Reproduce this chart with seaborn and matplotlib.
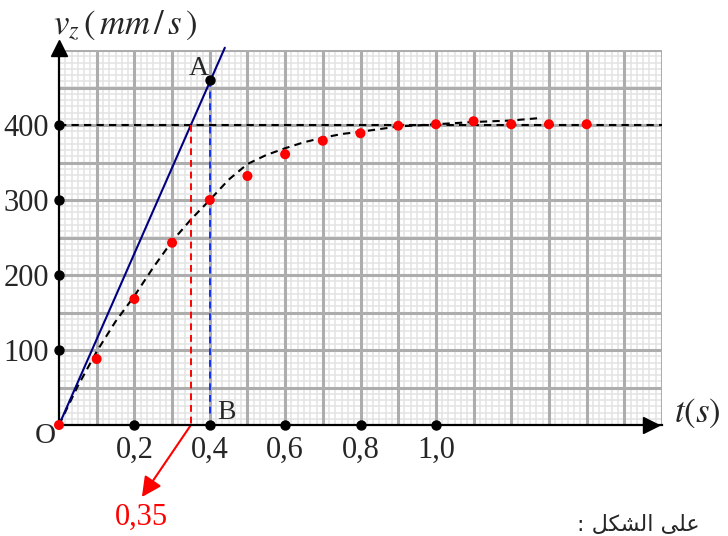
import numpy as np
import pandas as pd
import matplotlib
matplotlib.use("Agg")
import matplotlib.pyplot as plt
import seaborn as sns

# measured speed points (red dots)
t_meas = [0.0, 0.1, 0.2, 0.3, 0.4, 0.5, 0.6, 0.7, 0.8, 0.9, 1.0, 1.1, 1.2, 1.3, 1.4]
v_meas = [0, 88, 168, 243, 300, 332, 361, 379, 389, 399, 401, 405, 401, 401, 401]

# hand drawn dashed curve
t_curve = [0.0, 0.05, 0.1, 0.15, 0.2, 0.25, 0.3, 0.35, 0.4, 0.45, 0.5, 0.55, 0.6,
           0.65, 0.7, 0.75, 0.8, 0.9, 1.0, 1.1, 1.2, 1.27]
v_curve = [0, 52, 98, 138, 172, 210, 245, 274, 300, 327, 348, 360, 369,
           377, 383, 388, 391, 398, 401, 404, 406, 409]

# tangent at the origin
t_tan = [0.0, 0.44]
v_tan = [0, 503]

v_lim = 400
t_tau = 0.35
t_A, v_A = 0.4, 460

x_ticks = [0.2, 0.4, 0.6, 0.8, 1.0]
x_labels = ["0,2", "0,4", "0,6", "0,8", "1,0"]
y_ticks = [100, 200, 300, 400]
y_labels = ["100", "200", "300", "400"]

sns.set_style("white")
plt.rcParams["font.family"] = ["Liberation Serif", "DejaVu Sans"]
plt.rcParams["mathtext.fontset"] = "stix"

fig = plt.figure(figsize=(7.28, 5.36), dpi=100)
ax = fig.add_axes([59 / 728, 111 / 536, 603 / 728, 375 / 536])
ax.set_xlim(0, 1.6)
ax.set_ylim(0, 500)

# graph paper grid
for x in np.arange(0, 1.6001, 0.1 / 6):
    ax.axvline(x, color="#e3e3e3", lw=1.1, zorder=0)
for y in np.arange(0, 500.01, 50 / 6):
    ax.axhline(y, color="#e3e3e3", lw=1.1, zorder=0)
for x in np.arange(0.1, 1.6001, 0.1):
    ax.axvline(x, color="#adadad", lw=2.2, zorder=0.5)
for y in np.arange(50, 500.01, 50):
    ax.axhline(y, color="#adadad", lw=2.2, zorder=0.5)

ax.set_xticks(x_ticks)
ax.set_xticklabels(x_labels, fontsize=22)
ax.set_yticks(y_ticks)
ax.set_yticklabels(y_labels, fontsize=22)
ax.tick_params(axis="both", length=0)
ax.tick_params(axis="x", pad=8)
ax.tick_params(axis="y", pad=7)

for s in ["top", "right"]:
    ax.spines[s].set_visible(False)
for s in ["left", "bottom"]:
    ax.spines[s].set_color("black")
    ax.spines[s].set_linewidth(1.6)
    ax.spines[s].set_zorder(3)

# dashed fitted curve and measured points
curve = pd.DataFrame({"t": t_curve, "v": v_curve})
sns.lineplot(data=curve, x="t", y="v", ax=ax, color="black", lw=1.5,
             linestyle=(0, (3.5, 2.5)), zorder=4)
ax.axhline(v_lim, color="black", lw=1.5, linestyle=(0, (3.5, 2.5)), zorder=4)

# tangent
sns.lineplot(x=t_tan, y=v_tan, ax=ax, color="#000080", lw=1.5, zorder=4)
ax.lines[-1].set_clip_on(False)

ax.plot([t_tau, t_tau], [v_lim, 0], color="red", lw=1.4,
        linestyle=(0, (3.5, 2.5)), zorder=4)
ax.plot([t_A, t_A], [v_A, 15], color="#1030ff", lw=1.4,
        linestyle=(0, (3.5, 2.5)), zorder=4)

meas = pd.DataFrame({"t": t_meas, "v": v_meas})
sns.scatterplot(data=meas, x="t", y="v", ax=ax, color="red", s=52,
                edgecolor="none", zorder=6, clip_on=False)

# black dots on the axes and at A
ax.scatter(x_ticks, [0] * len(x_ticks), s=42, color="black", zorder=7, clip_on=False)
ax.scatter([0] * len(y_ticks), y_ticks, s=42, color="black", zorder=7, clip_on=False)
ax.scatter([t_A], [v_A], s=42, color="black", zorder=7, clip_on=False)

# axis arrows
ax.plot([0], [503], marker="^", markersize=12, color="black", clip_on=False, zorder=8)
ax.plot([1.57], [0], marker=">", markersize=12, color="black", clip_on=False, zorder=8)

ax.set_xlabel("")
ax.set_ylabel("")

ax.text(0.37, 475, "A", fontsize=20, ha="center", va="center")
ax.text(0.445, 17, "B", fontsize=20, ha="center", va="center")
ax.text(-0.035, -15, "O", fontsize=21, ha="center", va="center", clip_on=False)

ax.annotate("", xy=(0.22, -96), xytext=(t_tau, 0),
            arrowprops=dict(arrowstyle="-|>", color="red", lw=1.5,
                            mutation_scale=30, shrinkA=0, shrinkB=0),
            annotation_clip=False)
ax.text(0.22, -123, "0,35", fontsize=22, color="red", ha="center", va="center")

fig.text(125 / 728, 1 - 26 / 536, r"$v_z\,\left(\,mm\,/\,s\,\right)$", fontsize=25,
         ha="center", va="center")
fig.text(697 / 728, 1 - 413 / 536, r"$t\left(s\right)$", fontsize=25,
         ha="center", va="center")

# arabic caption near the bottom edge (visual order, presentation forms)
fig.text(700 / 728, 5 / 536,
         ": \uFEDE\uFEDC\uFEB8\uFEDF\uFE8D \uFEF0\uFEE0\uFECB",
         fontsize=16, ha="right", va="baseline", family=["DejaVu Sans"])

fig.savefig("out.png", dpi=100)
